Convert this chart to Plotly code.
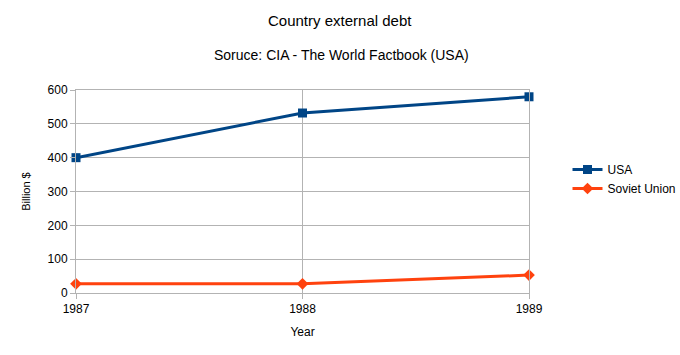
import plotly.graph_objects as go

years = ["1987", "1988", "1989"]
usa = [400, 532, 580]
soviet = [27, 27, 53]

fig = go.Figure()
fig.add_trace(go.Scatter(x=years, y=usa, name="USA", mode="lines+markers",
                         line=dict(color="#004586", width=3),
                         marker=dict(symbol="square", size=9, color="#004586")))
fig.add_trace(go.Scatter(x=years, y=soviet, name="Soviet Union", mode="lines+markers",
                         line=dict(color="#ff420e", width=3),
                         marker=dict(symbol="diamond", size=9, color="#ff420e")))

font = "Liberation Sans, Arial, sans-serif"
fig.update_layout(
    width=680, height=355,
    margin=dict(l=76, r=151, t=90, b=62, autoexpand=False),
    paper_bgcolor="white", plot_bgcolor="white",
    font=dict(family=font, size=12, color="black"),
    showlegend=True,
    legend=dict(x=1.085, y=(293-179)/203, xanchor="left", yanchor="middle",
                font=dict(size=12), bgcolor="rgba(0,0,0,0)", tracegroupgap=0,
                itemwidth=30),
)
fig.add_annotation(text="Country external debt", xref="paper", yref="paper",
                   x=(340-76)/453, y=1 + (90-20)/203, showarrow=False,
                   font=dict(size=15), xanchor="center", yanchor="middle")
fig.add_annotation(text="Soruce: CIA - The World Factbook (USA)", xref="paper", yref="paper",
                   x=(341-76)/453, y=1 + (90-55)/203, showarrow=False,
                   font=dict(size=14), xanchor="center", yanchor="middle")
fig.update_xaxes(type="category", range=[0, 2], showgrid=True, gridcolor="#b3b3b3",
                 showline=True, linecolor="#b3b3b3", mirror=True,
                 ticks="outside", ticklen=5, tickcolor="#b3b3b3",
                 title=dict(text="Year", font=dict(size=12), standoff=12),
                 zeroline=False)
fig.update_yaxes(range=[0, 600], dtick=100, showgrid=True, gridcolor="#b3b3b3",
                 showline=True, linecolor="#b3b3b3", mirror=True,
                 ticks="outside", ticklen=5, tickcolor="#b3b3b3",
                 title=dict(text="Billion $", font=dict(size=11), standoff=14),
                 zeroline=False)
fig.update_traces(cliponaxis=False)
fig.write_html("out.html")
